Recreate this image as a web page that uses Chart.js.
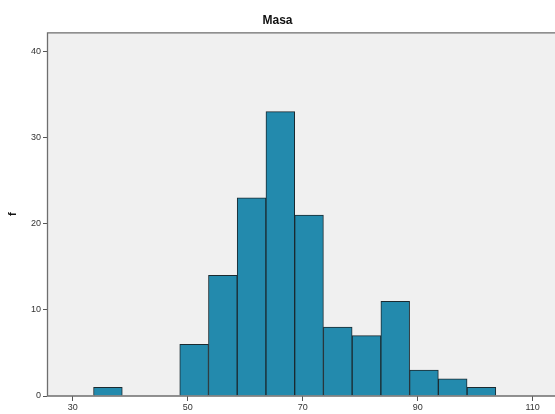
<!DOCTYPE html>
<html lang="en">
  <head>
    <meta charset="utf-8">
    <script src="https://cdn.jsdelivr.net/npm/chart.js@4.4.1/dist/chart.umd.min.js"></script>
    <style>
      html, body { margin: 0; padding: 0; background: #fff; overflow: hidden; }
      #wrap { width: 555px; height: 414px; }
    </style>
  </head>
  <body>
    <div id="wrap"><canvas id="chart" width="555" height="414"></canvas></div>

    <script type="text/javascript">
      // histogram data (bin centres, width 5)
      var binCenters = [36.1, 51.1, 56.1, 61.1, 66.1, 71.1, 76.1, 81.1, 86.1, 91.1, 96.1, 101.1];
      var counts = [1, 6, 14, 23, 33, 21, 8, 7, 11, 3, 2, 1];
      var xTicks = [30, 50, 70, 90, 110];
      var yTicks = [0, 10, 20, 30, 40];

      var points = [];
      for (var i = 0; i < binCenters.length; i++) {
        points.push({ x: binCenters[i], y: counts[i] });
      }

      // grey plot background + frame
      var plotFrame = {
        id: 'plotFrame',
        beforeDatasetsDraw: function (chart) {
          var a = chart.chartArea, ctx = chart.ctx;
          ctx.save();
          ctx.fillStyle = '#f0f0f0';
          ctx.fillRect(a.left, a.top, a.right - a.left, a.bottom - a.top);
          ctx.restore();
        },
        afterDatasetsDraw: function (chart) {
          var a = chart.chartArea, ctx = chart.ctx;
          ctx.save();
          ctx.strokeStyle = '#6e6e6e';
          ctx.lineWidth = 1.3;
          ctx.beginPath();
          ctx.moveTo(a.right + 2, a.top + 0.5);
          ctx.lineTo(a.left + 0.5, a.top + 0.5);
          ctx.lineTo(a.left + 0.5, a.bottom);
          ctx.lineTo(a.right + 2, a.bottom);
          ctx.stroke();
          ctx.restore();
        }
      };

      var context = document.getElementById('chart').getContext('2d');
      var chart = new Chart(context, {
        type: 'bar',
        data: {
          datasets: [{
            label: 'f',
            data: points,
            backgroundColor: '#238aad',
            borderColor: '#1b2a30',
            borderWidth: 1,
            borderSkipped: 'bottom',
            barPercentage: 1.0,
            categoryPercentage: 1.0
          }]
        },
        options: {
          responsive: false,
          animation: false,
          layout: { padding: { left: 0, right: 0, top: 0, bottom: 0 } },
          plugins: {
            legend: { display: false },
            tooltip: { enabled: false },
            title: {
              display: true,
              text: 'Masa',
              color: '#111',
              font: { family: 'Arial, "Liberation Sans", sans-serif', size: 12, weight: 'bold' },
              padding: { top: 13, bottom: 5 }
            }
          },
          scales: {
            x: {
              type: 'linear',
              min: 25.5,
              max: 113.9,
              offset: false,
              afterBuildTicks: function (scale) {
                scale.ticks = xTicks.map(function (v) { return { value: v }; });
              },
              afterFit: function (scale) { scale.height = 18; },
              grid: { display: true, offset: false, drawOnChartArea: false, drawTicks: true, tickLength: 5, color: '#555' },
              border: { display: false },
              ticks: {
                color: '#333',
                padding: 1,
                maxRotation: 0,
                font: { family: 'Arial, "Liberation Sans", sans-serif', size: 9 }
              }
            },
            y: {
              min: 0,
              max: 42.2,
              afterBuildTicks: function (scale) {
                scale.ticks = yTicks.map(function (v) { return { value: v }; });
              },
              afterFit: function (scale) { scale.width = 47; },
              grid: { display: true, drawOnChartArea: false, drawTicks: true, tickLength: 4, color: '#555' },
              border: { display: false },
              ticks: {
                color: '#333',
                padding: 2,
                font: { family: 'Arial, "Liberation Sans", sans-serif', size: 9 }
              },
              title: {
                display: true,
                text: 'f',
                color: '#111',
                padding: { top: 6, bottom: 0 },
                font: { family: 'Arial, "Liberation Sans", sans-serif', size: 11, weight: 'bold' }
              }
            }
          }
        },
        plugins: [plotFrame]
      });
    </script>
  </body>
</html>
